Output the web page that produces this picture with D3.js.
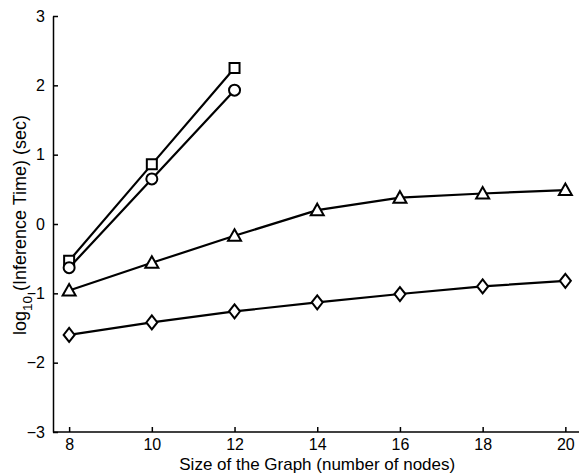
<!DOCTYPE html>
<html>
<head>
<meta charset="utf-8">
<script src="https://cdn.jsdelivr.net/npm/d3@7"></script>
<style>
  body { margin: 0; background: #fff; }
  svg { display: block; font-family: "Liberation Sans", Arial, sans-serif; }
  .axis path, .axis line { stroke: #000; stroke-width: 1.5; }
  .axis text { font-size: 16px; fill: #000; }
  .line { fill: none; stroke: #000; stroke-width: 2.2; }
  .mark { fill: #fff; stroke: #000; stroke-width: 2; }
</style>
</head>
<body>
<div data-output></div>
<script>
// graph sizes (number of nodes)
const sizesShort = [8, 10, 12];
const sizesLong = [8, 10, 12, 14, 16, 18, 20];

// log10 inference time (sec)
const squareVals = [-0.53, 0.86, 2.25];
const circleVals = [-0.63, 0.65, 1.93];
const triangleVals = [-0.96, -0.56, -0.17, 0.2, 0.38, 0.44, 0.49];
const diamondVals = [-1.6, -1.42, -1.26, -1.13, -1.01, -0.9, -0.82];

const xTicks = [8, 10, 12, 14, 16, 18, 20];
const yTicks = [-3, -2, -1, 0, 1, 2, 3];

const SIZE = { WIDTH: 579, HEIGHT: 474 };
const margin = { top: 16, right: 0, bottom: 42, left: 53 };
const width = SIZE.WIDTH - margin.left - margin.right;
const height = SIZE.HEIGHT - margin.top - margin.bottom;

const x = d3.scaleLinear().domain([7.61, 20.33]).range([0, width]);
const y = d3.scaleLinear().domain([-3, 3]).range([height, 0]);

const svg = d3.select('[data-output]').append('svg')
  .attr('width', SIZE.WIDTH)
  .attr('height', SIZE.HEIGHT)
  .append('g')
  .attr('transform', `translate(${margin.left}, ${margin.top})`);

// axes, ticks pointing inwards like matlab
svg.append('g')
  .attr('class', 'axis')
  .attr('transform', `translate(0, ${height})`)
  .call(d3.axisBottom(x).tickValues(xTicks).tickSizeInner(-5).tickSizeOuter(0).tickPadding(7))
  .call(g => g.select('.domain').attr('d', `M0,0H${width + 5}`));

svg.append('g')
  .attr('class', 'axis')
  .call(d3.axisLeft(y).tickValues(yTicks).tickSizeInner(-5).tickSizeOuter(0).tickPadding(8)
    .tickFormat(d => d < 0 ? '\u2212' + Math.abs(d) : d));

const series = [
  { xs: sizesShort, ys: squareVals, shape: 'square' },
  { xs: sizesShort, ys: circleVals, shape: 'circle' },
  { xs: sizesLong, ys: triangleVals, shape: 'triangle' },
  { xs: sizesLong, ys: diamondVals, shape: 'diamond' }
];

const valueLine = d3.line()
  .x(d => x(d[0]))
  .y(d => y(d[1]));

const markPath = {
  square: 'M-5,-5H5V5H-5Z',
  circle: 'M5.5,0A5.5,5.5 0 1,1 -5.5,0A5.5,5.5 0 1,1 5.5,0Z',
  triangle: 'M0,-6.5L6.5,5L-6.5,5Z',
  diamond: 'M0,-7L5.5,0L0,7L-5.5,0Z'
};

series.forEach(s => {
  const pts = s.xs.map((v, i) => [v, s.ys[i]]);
  svg.append('path')
    .datum(pts)
    .attr('class', 'line')
    .attr('d', valueLine);
  svg.selectAll(null)
    .data(pts)
    .enter().append('path')
    .attr('class', 'mark')
    .attr('transform', d => `translate(${x(d[0])}, ${y(d[1])})`)
    .attr('d', markPath[s.shape]);
});

// axis labels
svg.append('text')
  .attr('x', x(14))
  .attr('y', height + 38.4)
  .attr('text-anchor', 'middle')
  .style('font-size', '17px')
  .text('Size of the Graph (number of nodes)');

const yl = svg.append('text')
  .attr('transform', `translate(${-27}, ${319}) rotate(-90)`)
  .attr('text-anchor', 'start')
  .style('font-size', '18px');
yl.append('tspan').text('log');
yl.append('tspan').attr('dy', 6).style('font-size', '13.5px').text('10');
yl.append('tspan').attr('dy', -6).text(' (Inference Time) (sec)');
</script>
</body>
</html>
